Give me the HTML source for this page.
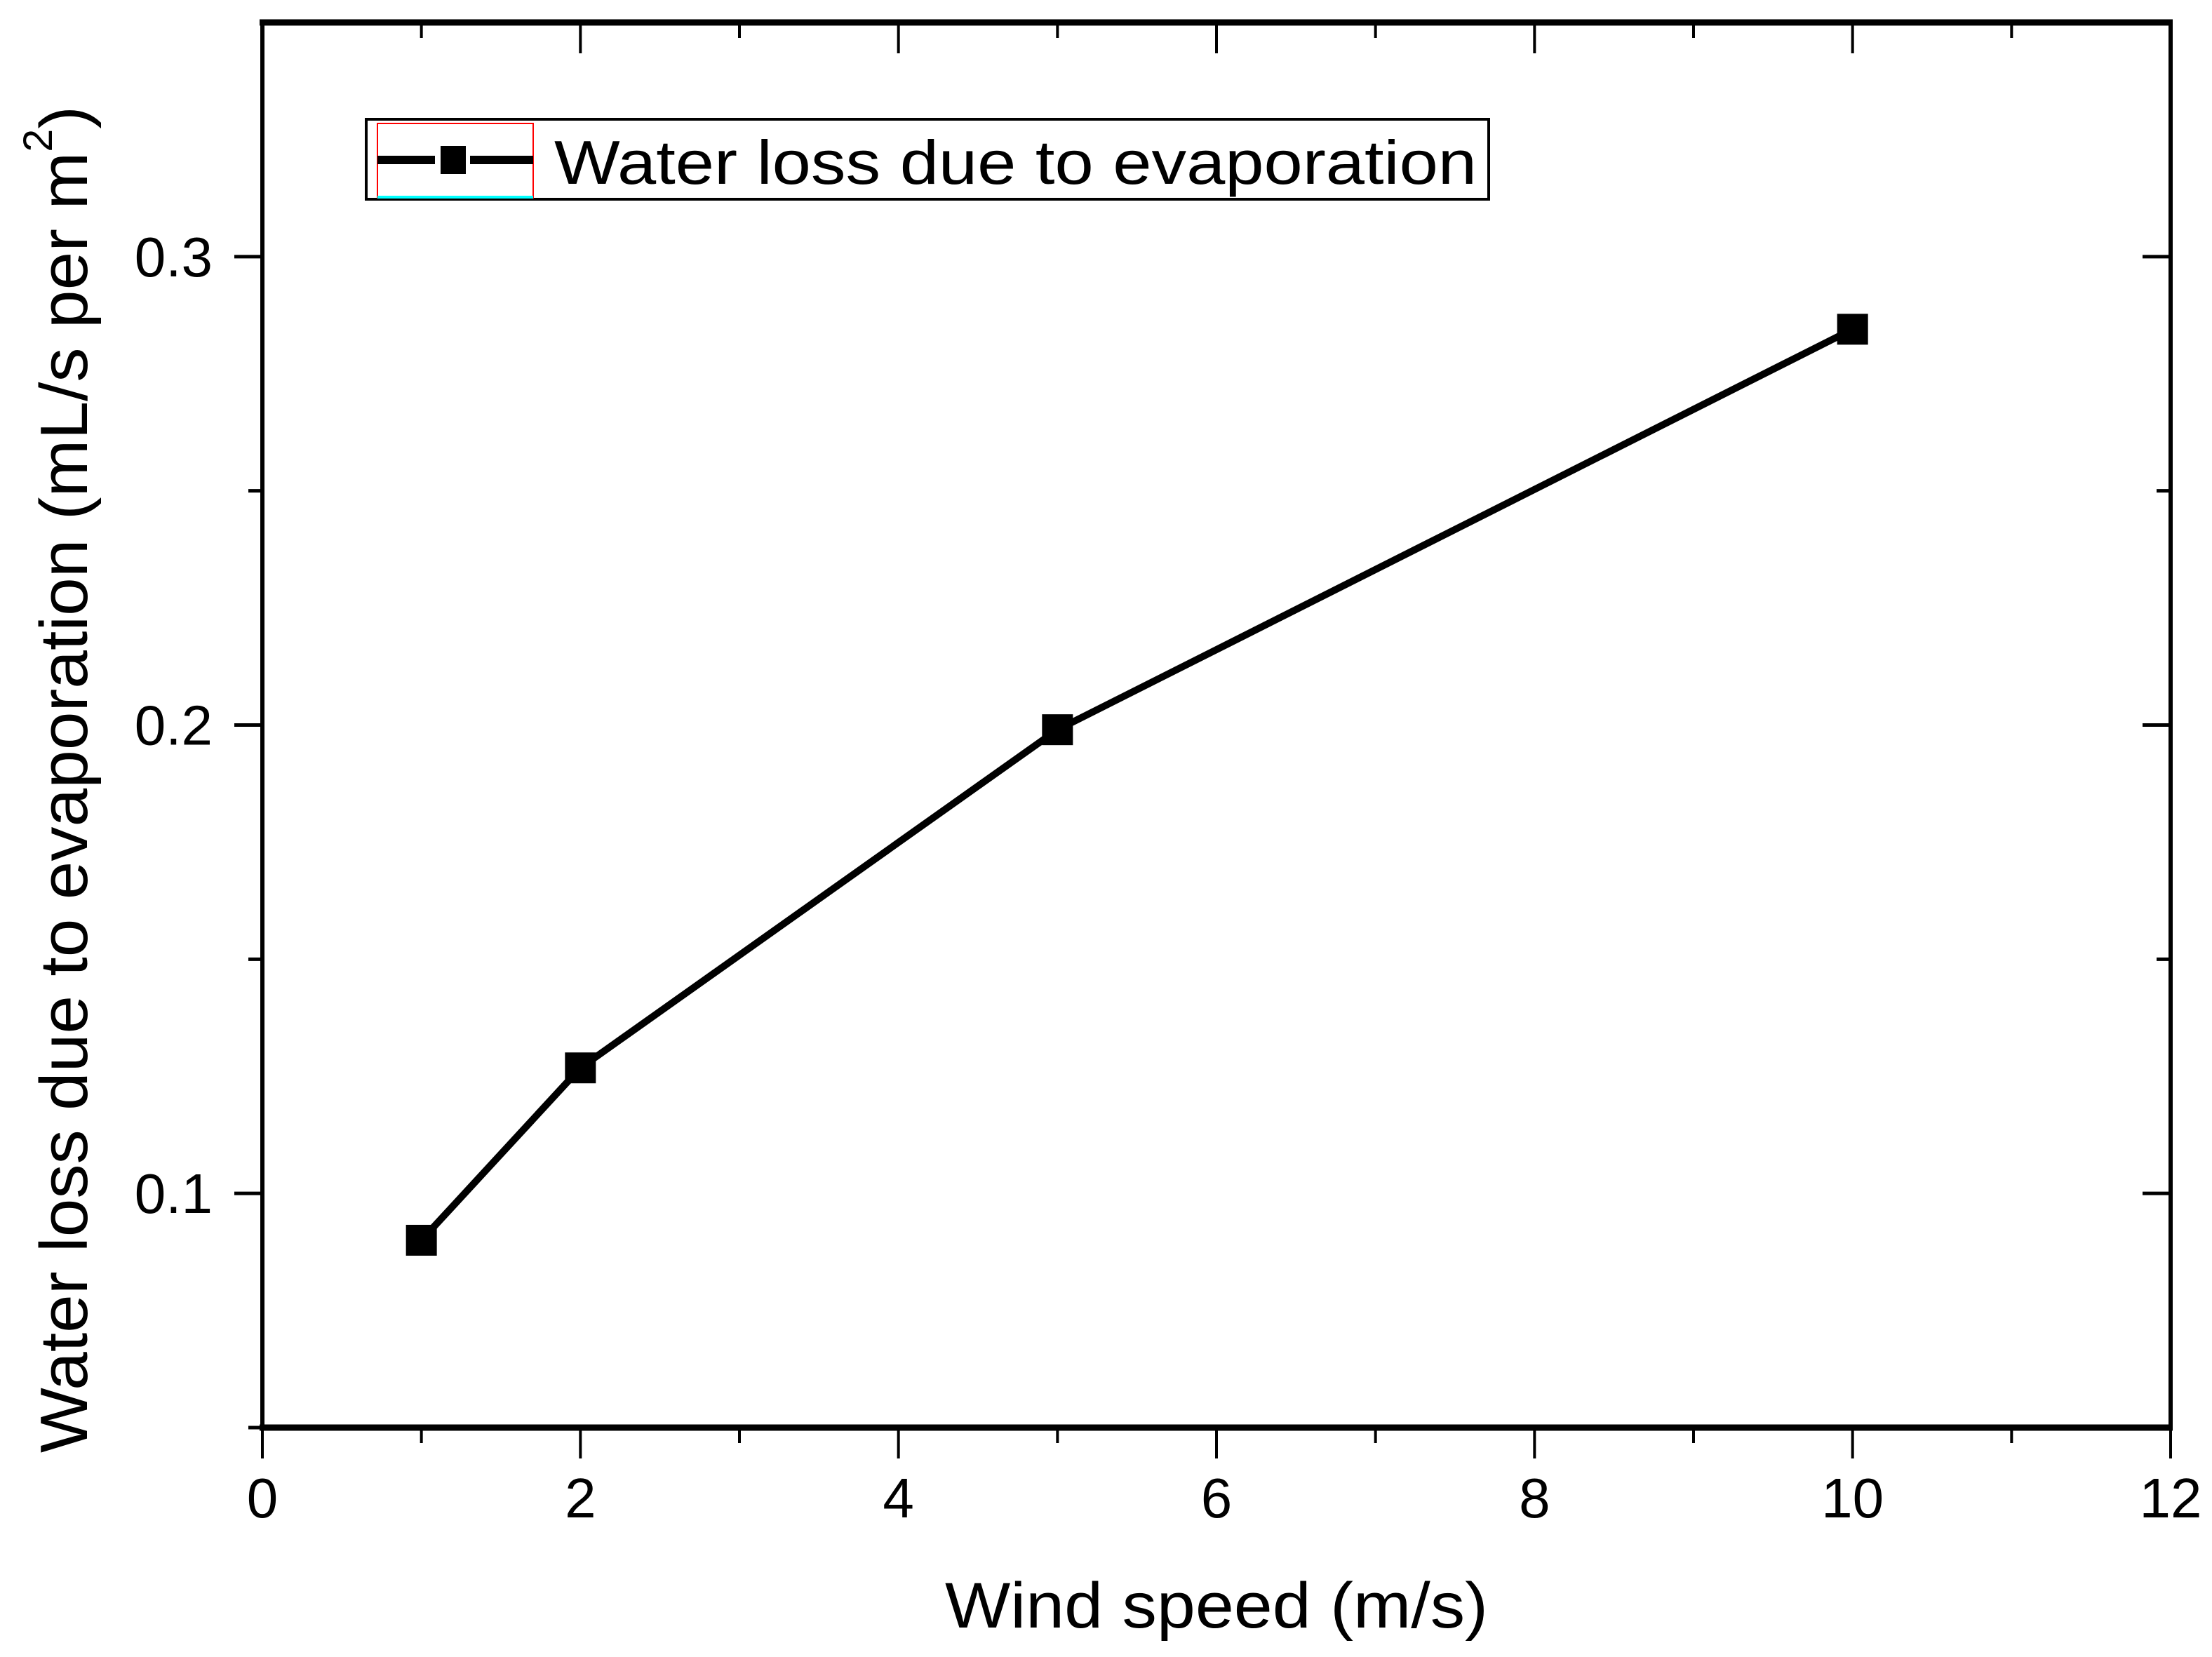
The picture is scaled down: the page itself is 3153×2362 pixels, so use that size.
<!DOCTYPE html>
<html><head><meta charset="utf-8"><style>
html,body{margin:0;padding:0;background:#fff;}
svg{display:block;font-family:"Liberation Sans",sans-serif;}
</style></head><body>
<svg id="chart" width="3153" height="2362" viewBox="0 0 3153 2362" xmlns="http://www.w3.org/2000/svg">
<g id="axes"></g>
<g id="series"></g>
<text x="1734" y="2320" font-size="92" text-anchor="middle" textLength="774" lengthAdjust="spacingAndGlyphs">Wind speed (m/s)</text>
<text transform="translate(124,1111) rotate(-90)" font-size="96" text-anchor="middle" textLength="1920" lengthAdjust="spacingAndGlyphs">Water loss due to evaporation (mL/s per m<tspan font-size="58" dy="-50">2</tspan><tspan dy="50">)</tspan></text>
<g>
<rect x="522" y="170" width="1600" height="114" fill="#fff" stroke="#000" stroke-width="4"/>
<rect x="538" y="176" width="222" height="106" fill="none" stroke="#f00" stroke-width="2"/>
<line x1="538" y1="281" x2="760" y2="281" stroke="#0ff" stroke-width="4"/>
<line x1="538" y1="228" x2="620" y2="228" stroke="#000" stroke-width="12"/>
<line x1="670" y1="228" x2="760" y2="228" stroke="#000" stroke-width="12"/>
<rect x="628" y="208" width="36" height="40" fill="#000"/>
<text x="790" y="262" font-size="88" textLength="1315" lengthAdjust="spacingAndGlyphs">Water loss due to evaporation</text>
</g>
</svg>
<script>
const xValues = [1, 2, 5, 10];
const yValues = [0.090, 0.1268, 0.199, 0.2845];
const xTickLabels = ["0","2","4","6","8","10","12"];
const yTickLabels = ["0.1","0.2","0.3"];
const yTickValues = [0.1, 0.2, 0.3];

const L=374,R=3094,T=32,B=2035;
const X0=0,X1=12,Y0=0.05,Y1=0.35;
function sx(v){return L+(v-X0)/(X1-X0)*(R-L);}
function sy(v){return B-(v-Y0)/(Y1-Y0)*(B-T);}
const NS="http://www.w3.org/2000/svg";
function mk(tag,attrs,parent){const e=document.createElementNS(NS,tag);for(const k in attrs)e.setAttribute(k,attrs[k]);parent.appendChild(e);return e;}
const ax=document.getElementById('axes');
let e;
e=mk('line',{x1:L-4,y1:B,x2:R+3,y2:B,stroke:'#000','stroke-width':9},ax);


e=mk('line',{x1:L-4,y1:T,x2:R+3,y2:T,stroke:'#000','stroke-width':9},ax);


e=mk('line',{x1:L,y1:T,x2:L,y2:B,stroke:'#000','stroke-width':6},ax);


e=mk('line',{x1:R,y1:T,x2:R,y2:B,stroke:'#000','stroke-width':6},ax);


for(let v=0;v<=12;v++){
  const major=v%2===0;const x=sx(v);const len=major?44:22;
  e=mk('line',{x1:x,y1:B,x2:x,y2:B+len,stroke:'#000','stroke-width':4},ax);
  
  
  e=mk('line',{x1:x,y1:T,x2:x,y2:T+len,stroke:'#000','stroke-width':4},ax);
  
  
}
xTickLabels.forEach((t,i)=>{
  e=mk('text',{x:sx(i*2),y:2163,'font-size':80,'text-anchor':'middle'},ax);
  e.textContent=t;
  
  
});
for(let k=1;k<=6;k++){
  const v=0.05*k;const y=sy(v);const major=k%2===0;const len=major?40:20;
  e=mk('line',{x1:L-len,y1:y,x2:L,y2:y,stroke:'#000','stroke-width':5},ax);
  
  
  e=mk('line',{x1:R-len,y1:y,x2:R,y2:y,stroke:'#000','stroke-width':5},ax);
  
  
}
yTickLabels.forEach((t,i)=>{
  e=mk('text',{x:303,y:sy(yTickValues[i])+28,'font-size':80,'text-anchor':'end'},ax);
  e.textContent=t;
  
  
});
const sg=document.getElementById('series');
const pts=xValues.map((x,i)=>sx(x)+','+sy(yValues[i])).join(' ');
e=mk('polyline',{points:pts,fill:'none',stroke:'#000','stroke-width':10},sg);


xValues.forEach((x,i)=>{
  e=mk('rect',{x:sx(x)-22,y:sy(yValues[i])-22,width:44,height:44,fill:'#000'},sg);
  
  
});
</script>
</body></html>
